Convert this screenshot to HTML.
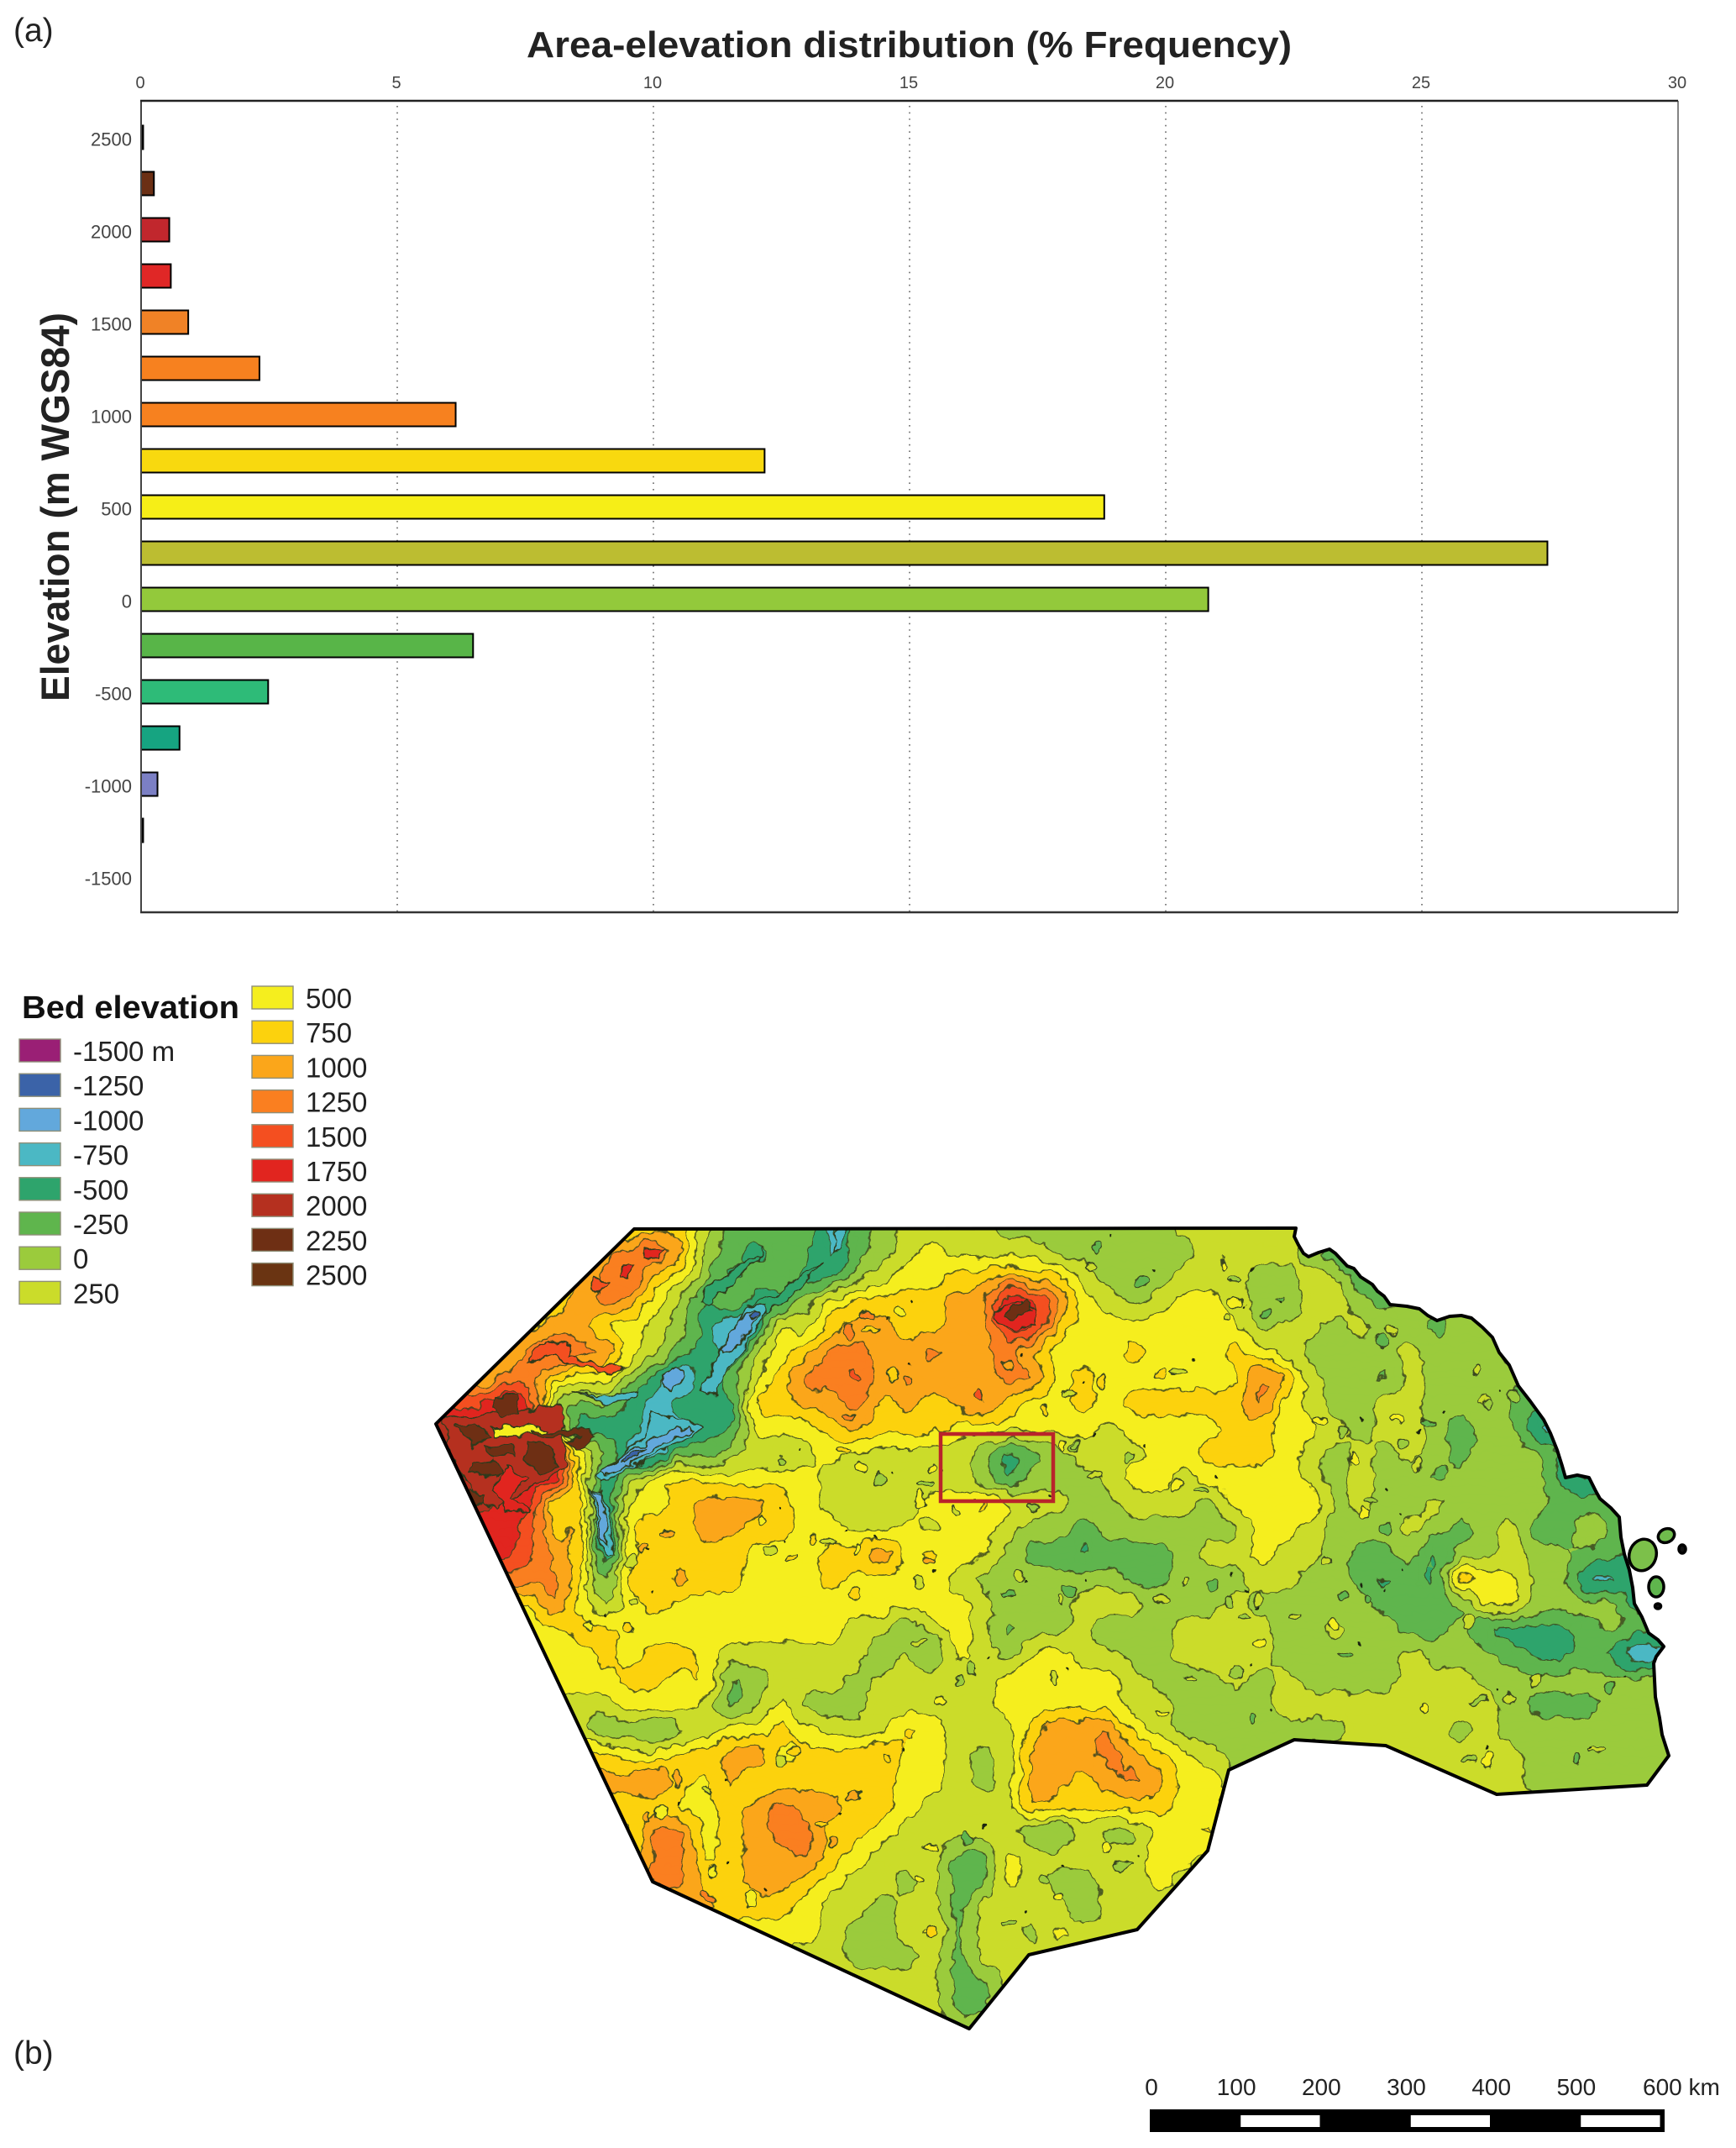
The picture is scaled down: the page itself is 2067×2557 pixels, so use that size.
<!DOCTYPE html>
<html lang="en">
<head>
<meta charset="utf-8">
<title>Area-elevation distribution and bed elevation map</title>
<style>
html,body{margin:0;padding:0;background:#fff;}
body{width:2067px;height:2557px;overflow:hidden;}
svg{display:block;font-family:"Liberation Sans",sans-serif;}
</style>
</head>
<body>
<svg id="fig" xmlns="http://www.w3.org/2000/svg" width="2067" height="2557" viewBox="0 0 2067 2557">
  <defs>
    <filter id="organic" filterUnits="userSpaceOnUse" x="480" y="1430" width="1570" height="1020" color-interpolation-filters="sRGB">
      <feTurbulence type="fractalNoise" baseFrequency="0.05" numOctaves="3" seed="4" result="n"/>
      <feDisplacementMap in="SourceGraphic" in2="n" scale="16" xChannelSelector="R" yChannelSelector="G"/>
    </filter>
    <clipPath id="mapClip"><path id="clipShape" d=""/></clipPath>
  </defs>
  <rect width="2067" height="2557" fill="#fff"/>
  <text x="16" y="49" font-size="39" fill="#222">(a)</text>
  <text x="16" y="2457" font-size="39" fill="#222">(b)</text>
  <text x="627" y="68" font-size="44" font-weight="bold" fill="#222" textLength="911" lengthAdjust="spacingAndGlyphs">Area-elevation distribution (% Frequency)</text>
  <text transform="translate(82,835) rotate(-90)" font-size="47" font-weight="bold" fill="#222" textLength="463" lengthAdjust="spacingAndGlyphs">Elevation (m WGS84)</text>
  <g id="chart"></g>
  <text x="26" y="1212" font-size="38" font-weight="bold" fill="#111" textLength="259" lengthAdjust="spacingAndGlyphs">Bed elevation</text>
  <g id="legend"></g>
  <g clip-path="url(#mapClip)">
    <g id="map" filter="url(#organic)"></g>
  </g>
  <path id="coast" d="" fill="none" stroke="#000" stroke-width="4" stroke-linejoin="round"/>
  <g id="islands"></g>
  <rect x="1120" y="1707" width="134" height="80" fill="none" stroke="#b9242b" stroke-width="4.5"/>
  <g id="scale"></g>
</svg>
<script>
/* ---------- Chart data ---------- */
const elevationBins = [2500,2250,2000,1750,1500,1250,1000,750,500,250,0,-250,-500,-750,-1000,-1250];
const frequencyValues = [0.04,0.25,0.55,0.58,0.92,2.31,6.14,12.17,18.8,27.45,20.83,6.48,2.48,0.75,0.32,0.04];
const barColors = ['#111','#6b2f14','#c1272d','#e02726','#f08226','#f7811f','#f7811f','#f8d90f','#f6ee17','#bcbd31','#93c93b','#58b548','#2ebb78','#16a481','#7b7fc4','#000'];
const xTickLabels = [0,5,10,15,20,25,30];
const yTickLabels = [2500,2000,1500,1000,500,0,-500,-1000,-1500];

/* ---------- Legend data ---------- */
const legendLabelsLeft = ['-1500 m','-1250','-1000','-750','-500','-250','0','250'];
const legendColorsLeft = ['#9a1f75','#3b63a8','#62a8dc','#4bb8c4','#2ea46c','#5fb54d','#9bcb3c','#cbdc2a'];
const legendLabelsRight = ['500','750','1000','1250','1500','1750','2000','2250','2500'];
const legendColorsRight = ['#f5ee1e','#fcd20d','#fba61a','#fa7f20','#f44f20','#e1251f','#b5301f','#6e2f14','#6a3412'];

/* ---------- Map data: band letter per grid node, A=-1250 ... O=2250 ---------- */
const bandColors = ['#3b63a8','#62a8dc','#4bb8c4','#2ea46c','#5fb54d','#9bcb3c','#cbdc2a','#f5ee1e','#fcd20d','#fba61a','#fa7f20','#f44f20','#e1251f','#b5301f','#6e2f14'];
const bedElevationRows = [
"HHHHHHHHHIIGEEEECEFGGGGFFFFFFFGGGGGGGGGGGGGGGGGGGGG",
"IIIIIIIJKLJFEDEECEFGHGGGGFFFFFFGGGGFDEEEEEEEEEEEEEE",
"IIIIIIIKLIHFDEEDDFGHHIIJIIGFFFGGGFFGGDEEEEEEEEEEEEE",
"IIIIIIJKJHFDFDDFHIIIIJJNMKHGFGHHGFEGGFEFFFFFFFFFFFF",
"JJJJIJJHHGFDBCHGIJJIIJJMMIHHHHHHHFGGFGFFEFFFFFFFFFF",
"KKKIKLKKHGEDCGHIKKJJKJJKIHHHIHHHIHGFFFFGFFFEFFFFFFF",
"LLIKKIHHFDBDEGIKKLJJJJJKKHIHHHHHHKJGFFEGFFFFEFFFFFF",
"MLLNMFEFDCDDDIIJJKIJIJKIHHIHIIIIIKHGFFGGFFGEEEEEEEE",
"NNNNMHCDDCCDDHHHIJIIIHHHHHHGHHHHIIHHGFGGFEFFCCDDDDD",
"NNONNMHFCBEEFGFGHGGGGGFDEFGGGHHIIIHGFGFGFEFFFDDDDDD",
"NNONMNHCFHIHHHHHGGGGGGFDFFFGHHGHHHHGFGFFEFFFFDCEEEE",
"NNNMMHICHHIJJJIHGGGGHHIHGGFFGGGFHHHIFGFFGFFFFEEEEEE",
"MMMMLIJBIIIJJIIHHGGHGHHGFFEFFFFFFHHGFFFGFEFGEDGEEEE",
"MMMMLJICHIIIIHHHIIKHIHHFEEDEEEFGGHGGFEEFDFFGFFEEDDD",
"KKKKKKIEIIJIIHHHIHHHHGFFFFFFEEFFFGGFFEEEDJHHFFCCDDD",
"IIIIHKHFHIHHHHHHHHHHHHGFFFGHGFFFGFFFFFEEEEHHFFFFDDD",
"HHHHHHIIHHHHHHHHHGGEGHGEFFGEFFGGGGFFGFFEEFDDDDEFEEE",
"HHHHHHHIHIIHGGGGGGEGEHGFHHGGFFGGGGFFFFFGFFFEDDEDBCC",
"HHHHHHHHIIHIEFGGGFGGGGGHHHHHGFFFGFGFFFFGGGFFFFFFFFF",
"GGGGGGGGHHHGEFHFFFGGGGGHHHHHGGFFFFGGGGGGGGGFEEEFFFF",
"GGGGGGGEFEFGHHIHGGGIHGGGIKJKHGFFFFFFFGGGGFGFFFFFFFF",
"IIIIIIIIHHIIJKHIIIJHHGFGJJJKJIHGFFGGGGGGGGGGFFFFFFF",
"JJJJJJJJJKIHJHIIIIIHHGFGJJIJKJHHGGGGGGGGGGGGFFFFFFF",
"IIIIIIIIIIHHIJKJJIIHGGGGJIIIIIHHGGGGGGGGGGGGGGGGGGG",
"HHHHHHHHHKKHIJKKIIHGGGGGEEGFFHHIGGGGGGGGGGGGGGGGGGG",
"HHHHHHHHHKKHIJJKIHGGGEEHGGGGGHHGGGGGGGGGGGGGGGGGGGG",
"HHHHHHHHHKKIIJJIHGGFGEEHGFFGGHGGGGGGGGGGGGGGGGGGGGG",
"IIIIIIIIIIIJIIIHGGFGGEGGGGEGGGGGGGGGGGGGGGGGGGGGGGG",
"HHHHHHHHHHHHHHHHGFFGHEGGFHGGGGGGGGGGGGGGGGGGGGGGGGG",
"GGGGGGGGGGGGGGGGGFFFGEGGGGGGGGGGGGGGGGGGGGGGGGGGGGG",
"GGGGGGGGGGGGGGGGGGGGGEEGGGGGGGGGGGGGGGGGGGGGGGGGGGG",
"GGGGGGGGGGGGGGGGGGGGGEEGGGGGGGGGGGGGGGGGGGGGGGGGGGG",
"GGGGGGGGGGGGGGGGGGGGGGGGGGGGGGGGGGGGGGGGGGGGGGGGGGG"
];
const gridOriginX = 510, gridOriginY = 1460, gridStep = 30;

/* narrow features too fine for the grid: band letter + outline (north-west sheet frame) */
const detailFeatures = [
['D',"800,120 795,150 740,190 700,240 660,280 650,310 665,320 700,280 750,215 790,170"],
['D',"945,180 900,230 860,300 810,340 770,320 830,290 880,220"],
['C',"975,70 1000,70 985,130 965,145"],
['C',"775,320 810,320 800,370 760,430 730,510 690,610 655,610 680,530 700,470 745,370"],
['B',"780,335 795,355 770,390 745,450 705,490 700,470 740,380"],
['A',"782,340 795,350 780,365 772,355"],
['B',"600,520 615,560 590,605 570,590 575,545"],
['C',"360,605 420,625 480,610 510,610 490,640 440,650 400,625"],
['C',"545,680 590,690 660,725 640,750 590,780 530,825 450,890 420,905 410,880 480,810 520,760 540,720"],
['B',"630,725 640,740 590,760 540,800 490,850 430,885 420,870 470,825 520,780 570,740"],
['A',"520,790 500,810 470,840 480,845 510,820"],
['C',"395,930 420,940 445,1020 445,1150 430,1150 415,1050"],
['B',"400,935 420,950 435,1030 438,1120 425,1090 415,1010"],
['L',"290,440 350,450 340,490 400,510 470,530 440,550 380,520 310,490 250,510 260,480"],
['L',"400,225 440,245 430,265 395,270"],
['M',"470,190 500,195 490,225 465,225"],
['M',"530,135 575,125 555,160 530,165"],
['N',"60,690 330,660 340,860 260,930 170,1000 120,930 60,800"],
['O',"175,620 225,615 230,680 190,695 170,660"],
['O',"85,720 130,715 165,750 130,790 95,750"],
['O',"150,790 220,780 225,820 170,830"],
['O',"250,770 300,780 320,860 280,880 245,830"],
['O',"120,850 170,840 190,880 150,895 115,880"],
['O',"110,930 150,950 140,990 110,960"],
['M',"200,850 250,900 210,960 260,1000 200,1010 170,940"],
['H',"170,725 260,722 300,730 290,750 175,748"],
['O',"260,742 400,730 415,760 370,800 340,780 380,755 270,752"],
['M',"1340,340 1400,300 1440,340 1440,380 1390,400 1350,380"],
['O',"1380,320 1420,300 1430,340 1390,360 1370,345"]
];

/* small closed contours scattered over the map */
const smallContours = [
[931,1738],[1025,1747],[1101,1767],[1107,1747],[1048,1763],[1003,1726],[1138,1801],[1094,1785],[1230,1794],[1265,1719],[1281,1722],
[1031,1565],[1071,1561],[1010,1586],[1036,1583],[1079,1644],[1064,1635],[1010,1686],[1199,1626],[1166,1661],[1273,1658],[1245,1679],
[1094,1885],[1107,1858],[1023,1844],[1018,1897],[987,1835],[969,1833],[916,1847],[944,1854],[908,1808],[1214,1877],[1202,1897],[1263,1904],[1275,1894],[1094,1954],
[755,1908],[750,1938],[701,1936],[765,1844],[752,1860],[796,1826],
[1461,1569],[1471,1549],[1471,1525],[1456,1505],[1359,1527],[1298,1507],[1305,1485],[1382,1634],[1402,1632],[1313,1643],[1344,1735],[1303,1757],[1282,1721],
[1400,1768],[1430,1773],[1411,1882],[1446,1889],[1382,1902],[1463,1906],[1499,1904],[1479,1927],[1579,1858],[1599,1900],[1543,1924],[1629,1904],[1588,1933],[1601,1971],
[1499,1956],[1471,1994],[1418,1998],[1492,2047],[1772,2094],[1749,2095],[1696,2034],[1915,2009],[1902,2083],[1877,2094],[1747,1931],[1647,1882],[1624,1802],[1650,1819],
[1573,1690],[1599,1703],[1611,1739],[1634,1786],[1688,1744],[1670,1717],[1662,1690],[1770,1672],[1803,1663],[1701,1694],[1757,1632],[1645,1596],[1657,1583],[1507,1565],
[1828,1999],[1762,2025],[1798,2023],
[931,2098],[944,2085],[1056,2093],[1016,2137],[981,2172],[990,2196],[895,2262],[844,2258],[848,2228],[809,2118],[844,2132],[769,2163],[786,2159],
[1383,2040],[1254,1998],[1317,2200],[1337,2220],[1260,2258],[1244,2237],[1108,2200],[1151,2188],[1110,2298],[1202,2288],[1096,2237],[1156,1987],[1122,2023],[1143,2002]
];

const coastline = "M755,1463 L1543,1462 L1541,1472 L1546,1482 L1552,1492 L1558,1496 L1570,1491 L1583,1487 L1590,1492 L1604,1507 L1612,1510 L1620,1520 L1634,1529 L1640,1537 L1648,1543 L1655,1553 L1675,1555 L1690,1558 L1700,1566 L1711,1572 L1726,1567 L1740,1566 L1752,1569 L1765,1580 L1777,1592 L1785,1610 L1797,1625 L1808,1650 L1822,1668 L1838,1690 L1846,1706 L1854,1726 L1860,1745 L1864,1759 L1878,1756 L1892,1759 L1900,1775 L1905,1784 L1918,1795 L1928,1806 L1930,1830 L1934,1850 L1940,1869 L1944,1890 L1946,1909 L1955,1925 L1963,1944 L1974,1952 L1981,1960 L1972,1972 L1969,1980 L1971,2020 L1976,2045 L1979,2065 L1987,2090 L1961,2125 L1782,2136 L1650,2078 L1541,2071 L1463,2107 L1438,2203 L1354,2297 L1225,2327 L1154,2415 L777,2240 L519,1695 Z";

/* ---------- Helpers ---------- */
const NS = 'http://www.w3.org/2000/svg';
function make(tag, attrs, parent, text) {
  const el = document.createElementNS(NS, tag);
  for (const k in attrs) el.setAttribute(k, attrs[k]);
  if (text !== undefined) el.textContent = text;
  parent.appendChild(el);
  return el;
}

/* ---------- Chart ---------- */
function xScale(v) { return 168 + 61 * v; }
function yScale(e) { return 713.5 - 0.22 * e; }
const chart = document.getElementById('chart');

xTickLabels.forEach(function (t) {
  if (t > 0 && t < 30) {
    const g = make('line', {x1: xScale(t), x2: xScale(t), y1: 126, y2: 1085, stroke: '#666', 'stroke-width': 1.6, 'stroke-dasharray': '1.6 6'}, chart);
    
    
  }
  const lb = make('text', {x: xScale(t) - 1, y: 105, 'font-size': 20, 'text-anchor': 'middle', fill: '#444'}, chart, String(t));
  
  
});
yTickLabels.forEach(function (t) {
  const lb = make('text', {x: 157, y: yScale(t) + 10, 'font-size': 22, 'text-anchor': 'end', fill: '#444'}, chart, String(t));
  
  
});
elevationBins.forEach(function (e, i) {
  const b = make('rect', {x: xScale(0), y: yScale(e) - 14, width: xScale(frequencyValues[i]) - xScale(0), height: 28, fill: barColors[i], stroke: '#000', 'stroke-width': 2}, chart);
  
  
});
const axL = make('line', {x1: 168, x2: 168, y1: 120, y2: 1086, stroke: '#444', 'stroke-width': 2}, chart);


const axT = make('line', {x1: 167, x2: 1998, y1: 120, y2: 120, stroke: '#222', 'stroke-width': 2.6}, chart);


const axB = make('line', {x1: 167, x2: 1998, y1: 1086, y2: 1086, stroke: '#333', 'stroke-width': 2.6}, chart);


const axR = make('line', {x1: 1998, x2: 1998, y1: 120, y2: 1086, stroke: '#333', 'stroke-width': 1.2}, chart);



/* ---------- Legend ---------- */
const legend = document.getElementById('legend');
function legendColumn(labels, colors, swatchX, textX, top) {
  labels.forEach(function (lab, i) {
    const y = top + i * 41.2;
    const s = make('rect', {x: swatchX, y: y, width: 49, height: 27, fill: colors[i], stroke: '#8f8f78', 'stroke-width': 1.4}, legend);
    
    
    const t = make('text', {x: textX, y: y + 26, 'font-size': 33, fill: '#222'}, legend, lab);
    
    
  });
}
legendColumn(legendLabelsLeft, legendColorsLeft, 23, 87, 1237);
legendColumn(legendLabelsRight, legendColorsRight, 300, 364, 1174);

/* ---------- Map (marching squares over a smoothed, refined band grid) ---------- */
const map = document.getElementById('map');
const nRows = bedElevationRows.length, nCols = 51, refine = 3;
function node(r, c) {
  const row = bedElevationRows[Math.max(0, Math.min(nRows - 1, r))];
  const ch = row[Math.min(row.length - 1, Math.max(0, c))];
  return ch.charCodeAt(0) - 65;
}
function sampleBand(x, y) {
  const fx = (x - gridOriginX) / gridStep, fy = (y - gridOriginY) / gridStep;
  const c = Math.floor(fx), r = Math.floor(fy), u = fx - c, v = fy - r;
  return node(r, c) * (1 - u) * (1 - v) + node(r, c + 1) * u * (1 - v) + node(r + 1, c + 1) * u * v + node(r + 1, c) * (1 - u) * v;
}
const fineStep = gridStep / refine;
const fineRows = (nRows - 1) * refine + 1, fineCols = (nCols - 1) * refine + 1;
const raw = [], fine = [];
for (let r = 0; r < fineRows; r++) {
  raw.push([]);
  for (let c = 0; c < fineCols; c++) raw[r].push(sampleBand(gridOriginX + c * fineStep, gridOriginY + r * fineStep));
}
const kernel = [0.25, 0.5, 0.25];
for (let r = 0; r < fineRows; r++) {
  fine.push([]);
  for (let c = 0; c < fineCols; c++) {
    let s = 0;
    for (let i = -1; i <= 1; i++) for (let j = -1; j <= 1; j++) {
      const rr = Math.max(0, Math.min(fineRows - 1, r + i)), cc = Math.max(0, Math.min(fineCols - 1, c + j));
      s += raw[rr][cc] * kernel[i + 1] * kernel[j + 1];
    }
    fine[r].push(s);
  }
}
const baseLayer = make('rect', {x: 480, y: 1430, width: 1570, height: 1020, fill: bandColors[0]}, map);


const contourParts = [];
for (let band = 1; band < bandColors.length; band++) {
  const t = band - 0.5;
  const fillParts = [];
  for (let r = 0; r < fineRows - 1; r++) {
    let runStart = -1;
    const y0 = gridOriginY + r * fineStep, y1 = y0 + fineStep;
    for (let c = 0; c < fineCols; c++) {
      const full = c < fineCols - 1 && fine[r][c] >= t && fine[r][c + 1] >= t && fine[r + 1][c + 1] >= t && fine[r + 1][c] >= t;
      if (full) { if (runStart < 0) runStart = c; continue; }
      if (runStart >= 0) {
        const xa = gridOriginX + runStart * fineStep, xb = gridOriginX + c * fineStep;
        fillParts.push('M' + xa + ',' + y0 + 'H' + xb + 'V' + y1 + 'H' + xa + 'Z');
        runStart = -1;
      }
      if (c === fineCols - 1) continue;
      const x0 = gridOriginX + c * fineStep, x1 = x0 + fineStep;
      const pts = [[x0, y0, fine[r][c]], [x1, y0, fine[r][c + 1]], [x1, y1, fine[r + 1][c + 1]], [x0, y1, fine[r + 1][c]]];
      const poly = [], cross = [];
      for (let k = 0; k < 4; k++) {
        const p = pts[k], q = pts[(k + 1) % 4];
        if (p[2] >= t) poly.push([p[0], p[1]]);
        if ((p[2] >= t) !== (q[2] >= t)) {
          const f = (t - p[2]) / (q[2] - p[2]);
          const pt = [p[0] + (q[0] - p[0]) * f, p[1] + (q[1] - p[1]) * f];
          poly.push(pt);
          cross.push(pt);
        }
      }
      if (poly.length > 2) {
        fillParts.push('M' + poly.map(function (p) { return p[0].toFixed(1) + ',' + p[1].toFixed(1); }).join('L') + 'Z');
      }
      const seg = function (a, b) {
        contourParts.push('M' + a[0].toFixed(1) + ',' + a[1].toFixed(1) + 'L' + b[0].toFixed(1) + ',' + b[1].toFixed(1));
      };
      if (cross.length === 2) seg(cross[0], cross[1]);
      else if (cross.length === 4) {
        const mean = (pts[0][2] + pts[1][2] + pts[2][2] + pts[3][2]) / 4;
        if ((mean >= t) === (pts[0][2] >= t)) { seg(cross[0], cross[1]); seg(cross[2], cross[3]); }
        else { seg(cross[3], cross[0]); seg(cross[1], cross[2]); }
      }
    }
  }
  if (fillParts.length) {
    const bp = make('path', {d: fillParts.join(''), fill: bandColors[band], stroke: bandColors[band], 'stroke-width': 0.7}, map);
    
    
  }
}
const contours = make('path', {d: contourParts.join(''), fill: 'none', stroke: '#3a4720', 'stroke-width': 1.5, 'stroke-opacity': 0.85}, map);



const detailGroup = make('g', {transform: 'translate(500,1440) scale(0.5102,0.3571)'}, map);


detailFeatures.forEach(function (f) {
  const color = bandColors[f[0].charCodeAt(0) - 65];
  const p = make('polygon', {points: f[1], fill: color, stroke: '#2e3a1c', 'stroke-width': 1.5, 'stroke-linejoin': 'round', 'vector-effect': 'non-scaling-stroke'}, detailGroup);
  
  
});

smallContours.forEach(function (p, i) {
  const base = Math.round(sampleBand(p[0], p[1]));
  const shifted = Math.max(0, Math.min(bandColors.length - 1, base + (i % 2 ? 1 : -1)));
  const e = make('ellipse', {cx: p[0], cy: p[1], rx: 4 + (i % 3) * 2.2, ry: 3.5 + ((i + 1) % 3) * 2.2, fill: bandColors[shifted], stroke: '#3a4720', 'stroke-width': 1.4}, map);
  
  
  if (i % 2 === 0) {
    const d = make('circle', {cx: p[0] + 19, cy: p[1] - 13, r: 1.7, fill: '#1c2410'}, map);
    
    
  }
});

document.getElementById('clipShape').setAttribute('d', coastline);
document.getElementById('coast').setAttribute('d', coastline);

/* ---------- Islands ---------- */
const islandShapes = [[1956,1851,16,19,'#7cc04a',18],[1984,1828,10,8,'#6fbb4c',-25],[2003,1844,4,5,'#111',0],[1972,1889,9,12,'#5fb54d',0],[1974,1912,3.5,3,'#111',0]];
const islands = document.getElementById('islands');
islandShapes.forEach(function (s) {
  const e = make('ellipse', {cx: s[0], cy: s[1], rx: s[2], ry: s[3], fill: s[4], stroke: '#000', 'stroke-width': 3.5, transform: 'rotate(' + s[5] + ' ' + s[0] + ' ' + s[1] + ')'}, islands);
  
  
});

/* ---------- Scale bar ---------- */
const scaleValues = [0,100,200,300,400,500,600];
const scale = document.getElementById('scale');
function kmX(v) { return 1371 + v * 1.0125; }
const barBg = make('rect', {x: 1369, y: 2511, width: 613, height: 27, fill: '#000'}, scale);


[[100,200],[300,400],[500,600]].forEach(function (seg) {
  const w = make('rect', {x: kmX(seg[0]) + 5, y: 2518, width: kmX(seg[1]) - kmX(seg[0]) - 7, height: 14, fill: '#fff'}, scale);
  
  
});
scaleValues.forEach(function (v) {
  const isLast = v === 600;
  const t = make('text', {x: isLast ? 1956 : (1371 + v * 1.0117), y: 2494, 'font-size': 28, 'text-anchor': isLast ? 'start' : 'middle', fill: '#222'}, scale, isLast ? '600 km' : String(v));
  
  
});
</script>
</body>
</html>
